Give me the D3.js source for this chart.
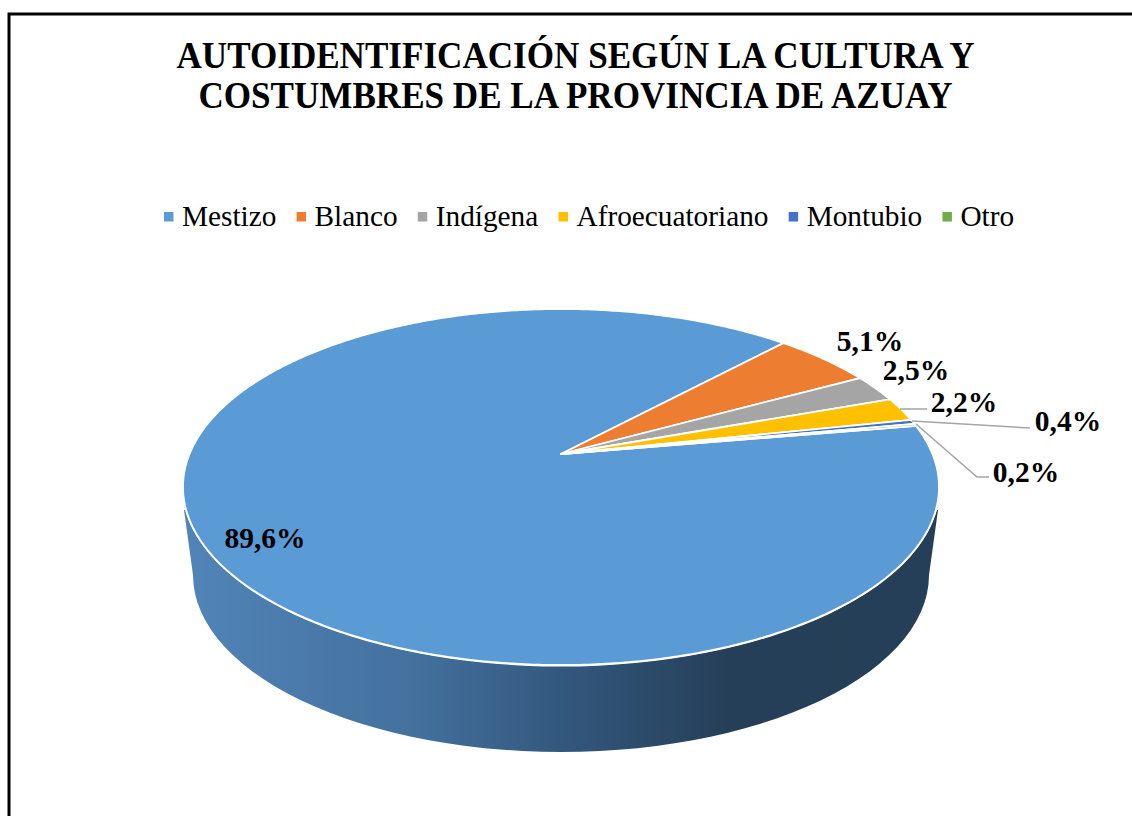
<!DOCTYPE html>
<html><head><meta charset="utf-8">
<script src="https://cdnjs.cloudflare.com/ajax/libs/d3/7.8.5/d3.min.js"></script>
<style>html,body{margin:0;padding:0;background:#fff;overflow:hidden}svg{display:block}text{font-family:"Liberation Serif",serif;fill:#000}</style>
</head><body><svg id="c" width="1132" height="816"></svg>
<script>
const categories=["Mestizo","Blanco","Indígena","Afroecuatoriano","Montubio","Otro"];
const values=[89.6,5.1,2.5,2.2,0.4,0.2];
const colors=["#5b9bd5","#ed7d31","#a5a5a5","#ffc000","#4472c4","#70ad47"];
const titleLines=["AUTOIDENTIFICACIÓN SEGÚN LA CULTURA Y","COSTUMBRES DE LA PROVINCIA DE AZUAY"];

const svg=d3.select("#c");
// frame
svg.append("path").attr("d","M9,816V14H1132").attr("fill","none").attr("stroke","#000").attr("stroke-width",3);
// title
const titleWidths=[798,754];
svg.selectAll("text.title").data(titleLines).join("text").attr("class","title")
  .attr("x",575.5).attr("y",(d,i)=>68+i*39.5).attr("text-anchor","middle")
  .attr("font-size",37.5).attr("font-weight","bold")
  .attr("textLength",(d,i)=>titleWidths[i]).attr("lengthAdjust","spacingAndGlyphs").text(d=>d);
// legend
let lx=164;
categories.forEach((c,i)=>{
  svg.append("rect").attr("x",lx).attr("y",212).attr("width",9.5).attr("height",9.5).attr("fill",colors[i]);
  const t=svg.append("text").attr("x",lx+18).attr("y",226).attr("font-size",29.3).text(c);
  lx+=18+t.node().getComputedTextLength()+20.2;
});
// perspective pie geometry
const cx=561,cy=487,rx=378,ry=178,apexY=454;
const c=(apexY-cy)/ry, k=Math.sqrt(1-c*c);
const project=a=>{const u=Math.sin(a),v=-Math.cos(a),d=1+c*v;return [cx+rx*u*k/d,cy+ry*(v+c)/d];};
const rot=80.3*Math.PI/180;
const pie=d3.pie().sort(null).startAngle(rot).endAngle(rot+2*Math.PI);
const arcs=pie(values);
const line=d3.line();

// side wall
const defs=svg.append("defs");
const g=defs.append("linearGradient").attr("id","wall").attr("gradientUnits","userSpaceOnUse")
  .attr("x1",184).attr("x2",938).attr("y1",0).attr("y2",0);
[[0,"#5184b8"],[0.3,"#44719e"],[0.5,"#33587e"],[0.72,"#263f58"],[1,"#243f57"]]
  .forEach(s=>g.append("stop").attr("offset",s[0]).attr("stop-color",s[1]));
const bcx=561,bcy=575,brx=368,bry=177;
const wallPts=[[184,510]].concat(d3.range(0,181,3).map(t=>{const a=Math.PI-t*Math.PI/180;return [bcx+brx*Math.cos(a),bcy+bry*Math.sin(a)];}),[[938,510]]);
svg.append("path").attr("d",line(wallPts)+"Z").attr("fill","url(#wall)");

// top ellipse white rim + slices
svg.append("ellipse").attr("cx",cx).attr("cy",cy).attr("rx",rx+1).attr("ry",ry+1.5).attr("fill","#fff");
svg.selectAll("path.slice").data(arcs).join("path").attr("class","slice")
  .attr("d",d=>{
    const n=Math.max(4,Math.ceil((d.endAngle-d.startAngle)/0.01));
    const pts=d3.range(n+1).map(i=>project(d.startAngle+(d.endAngle-d.startAngle)*i/n));
    return line([[cx,apexY],...pts])+"Z";
  })
  .attr("fill",(d,i)=>colors[i]).attr("stroke","#fff").attr("stroke-width",1.8).attr("stroke-linejoin","round");

// leader lines
const leaders=[[[900,409],[927,409]],[[912,421],[1030,428]],[[916,424],[977,477],[989,477]]];
svg.selectAll("path.leader").data(leaders).join("path").attr("class","leader")
  .attr("d",d=>line(d)).attr("fill","none").attr("stroke","#a5a5a5").attr("stroke-width",1.5);

// data labels
const fmt=v=>v.toFixed(1).replace(".",",")+"%";
const labelPos=[[265,548],[870,351],[916,380],[964,412],[1068,431],[1026,482]];
svg.selectAll("text.lab").data(values).join("text").attr("class","lab")
  .attr("x",(d,i)=>labelPos[i][0]).attr("y",(d,i)=>labelPos[i][1]).attr("text-anchor","middle")
  .attr("font-size",29.5).attr("font-weight","bold").text(fmt);
</script></body></html>
